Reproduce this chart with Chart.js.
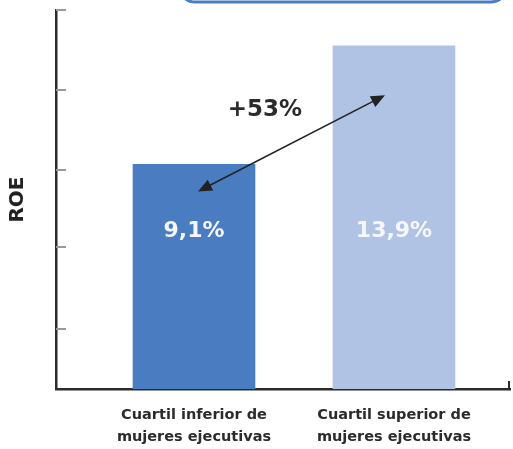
<!DOCTYPE html>
<html>
<head>
<meta charset="utf-8">
<script src="https://cdn.jsdelivr.net/npm/chart.js@4"></script>
<style>
  html, body { margin: 0; padding: 0; background: #fff; }
  canvas { display: block; }
</style>
</head>
<body>
<canvas id="chart" width="513" height="449"></canvas>
<script>
// datos
const categorias = [
    ['Cuartil inferior de', 'mujeres ejecutivas'],
    ['Cuartil superior de', 'mujeres ejecutivas']
];
const roe = [9.1, 13.9];
const marcasY = [2.45, 5.75, 8.85, 12.1, 15.35];
const colores = ['#4a7cc2', '#b1c3e5'];

const fuente = "'DejaVu Sans', sans-serif";
const oscuro = '#2b2b2b';

function pct(v) {
    return v.toFixed(1).replace('.', ',') + '%';
}

// flecha doble entre las dos barras
function flecha(ctx, x0, y0, x1, y1) {
    const ang = Math.atan2(y1 - y0, x1 - x0);
    const largo = 14, ancho = 6;
    ctx.save();
    ctx.strokeStyle = '#222';
    ctx.fillStyle = '#222';
    ctx.lineWidth = 1.6;
    ctx.beginPath();
    ctx.moveTo(x0 + Math.cos(ang) * 8, y0 + Math.sin(ang) * 8);
    ctx.lineTo(x1 - Math.cos(ang) * 8, y1 - Math.sin(ang) * 8);
    ctx.stroke();
    [[x0, y0, ang + Math.PI], [x1, y1, ang]].forEach(function (p) {
        const [x, y, a] = p;
        ctx.beginPath();
        ctx.moveTo(x, y);
        ctx.lineTo(x - Math.cos(a) * largo - Math.sin(a) * ancho, y - Math.sin(a) * largo + Math.cos(a) * ancho);
        ctx.lineTo(x - Math.cos(a) * largo + Math.sin(a) * ancho, y - Math.sin(a) * largo - Math.cos(a) * ancho);
        ctx.closePath();
        ctx.fill();
    });
    ctx.restore();
}

const extras = {
    id: 'extras',
    afterDatasetsDraw(chart) {
        const ctx = chart.ctx;
        const area = chart.chartArea;
        const y = chart.scales.y;
        const barras = chart.getDatasetMeta(0).data;

        // marcas cortas del eje Y hacia dentro
        ctx.save();
        ctx.strokeStyle = '#999';
        ctx.lineWidth = 2;
        y.ticks.forEach(function (t) {
            const py = Math.round(y.getPixelForValue(t.value));
            ctx.beginPath();
            ctx.moveTo(area.left, py);
            ctx.lineTo(area.left + 10, py);
            ctx.stroke();
        });
        // remate del eje X
        ctx.strokeStyle = oscuro;
        ctx.beginPath();
        ctx.moveTo(area.right - 1, area.bottom);
        ctx.lineTo(area.right - 1, area.bottom - 8);
        ctx.stroke();
        ctx.restore();

        // valores dentro de las barras
        ctx.save();
        ctx.font = 'bold 22px ' + fuente;
        ctx.fillStyle = '#f5f7fc';
        ctx.textAlign = 'center';
        ctx.textBaseline = 'middle';
        barras.forEach(function (b, i) {
            ctx.fillText(pct(roe[i]), b.x, y.getPixelForValue(6.4));
        });
        ctx.restore();

        // diferencia entre cuartiles
        flecha(ctx,
            barras[0].x + 4, y.getPixelForValue(roe[0] - 1.1),
            barras[1].x - 9, y.getPixelForValue(roe[1] - 2.0));
        ctx.save();
        ctx.font = 'bold 23px ' + fuente;
        ctx.fillStyle = oscuro;
        ctx.textAlign = 'center';
        ctx.textBaseline = 'middle';
        const dif = Math.round((roe[1] / roe[0] - 1) * 100);
        ctx.fillText('+' + dif + '%', barras[0].x + 71, y.getPixelForValue(11.3));
        ctx.restore();

        // recuadro azul superior (cortado)
        ctx.save();
        ctx.strokeStyle = '#4a7cc4';
        ctx.lineWidth = 3;
        ctx.beginPath();
        ctx.roundRect(179, -30, 328, 32, 16);
        ctx.stroke();
        ctx.restore();
    }
};

new Chart(document.getElementById('chart'), {
    type: 'bar',
    data: {
        datasets: [{
            data: roe.map(function (v, i) { return { x: i, y: v }; }),
            backgroundColor: colores,
            barThickness: 122
        }]
    },
    options: {
        responsive: false,
        animation: false,
        layout: { padding: { left: 6, right: 3, top: 10, bottom: 0 } },
        plugins: {
            legend: { display: false },
            tooltip: { enabled: false }
        },
        scales: {
            x: {
                type: 'linear',
                offset: false,
                min: -0.69,
                max: 1.58,
                grid: { display: false, drawTicks: false, offset: false },
                border: { color: oscuro, width: 2.5 },
                afterBuildTicks: function (s) {
                    s.ticks = categorias.map(function (c, i) { return { value: i }; });
                },
                afterFit: function (s) { s.height = 60; },
                ticks: {
                    autoSkip: false,
                    maxRotation: 0,
                    padding: 15,
                    color: oscuro,
                    font: { family: fuente, size: 14.5, weight: 'bold', lineHeight: 1.55 },
                    callback: function (v) { return categorias[v]; }
                }
            },
            y: {
                min: 0,
                max: 15.35,
                grid: { display: false, drawTicks: false },
                border: { color: oscuro, width: 2.5 },
                afterBuildTicks: function (s) {
                    s.ticks = marcasY.map(function (v) { return { value: v }; });
                },
                afterFit: function (s) { s.width = 50; },
                ticks: { display: false },
                title: {
                    display: true,
                    text: 'ROE',
                    color: '#222',
                    padding: { top: 0, bottom: 0 },
                    font: { family: fuente, size: 20, weight: 'bold' }
                }
            }
        }
    },
    plugins: [extras]
});
</script>
</body>
</html>
